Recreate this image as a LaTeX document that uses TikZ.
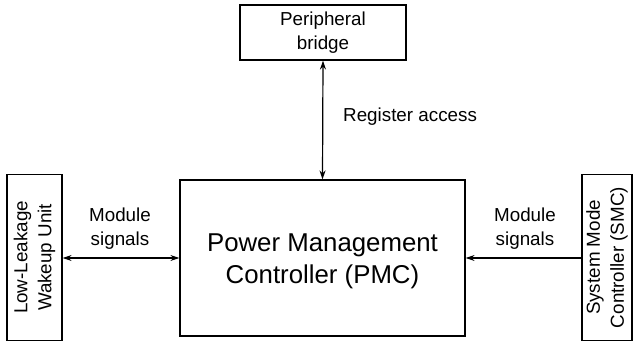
\documentclass[tikz,border=0pt]{standalone}
\usepackage{fontspec}
\setmainfont{Liberation Sans}
\usetikzlibrary{arrows.meta}
\begin{document}
\begin{tikzpicture}[x=1pt,y=-1pt,
  box/.style={draw,line width=1.2pt,inner sep=0pt},
  lbl/.style={font=\fontsize{18.8}{24}\selectfont,align=center,inner sep=0pt},
  conn/.style={line width=1.2pt,-{Stealth[length=9pt,width=6pt]}},
  bconn/.style={line width=1.2pt,{Stealth[length=9pt,width=6pt]}-{Stealth[length=9pt,width=6pt]}}]
\useasboundingbox (0,0) rectangle (637,342);
\node[box,minimum width=166pt,minimum height=55pt] (pb) at (323,32.5) {};
\node[lbl] at (pb.center) {Peripheral\\bridge};
\node[box,minimum width=285pt,minimum height=156pt] (pmc) at (322.5,258) {};
\node[font=\fontsize{25.8}{32}\selectfont,align=center,inner sep=0pt] at (322.5,261) {Power Management\\Controller (PMC)};
\node[box,minimum width=55pt,minimum height=166pt] (lw) at (34.5,257.5) {};
\node[lbl,rotate=90] at (lw.center) {Low-Leakage\\Wakeup Unit};
\node[box,minimum width=50pt,minimum height=166pt] (smc) at (607,257.5) {};
\node[lbl,rotate=90] at (smc.center) {System Mode\\Controller (SMC)};
\draw[bconn] (pb.south) -- (pmc.north);
\draw[bconn] (lw.east |- 0,258) coordinate (a) -- (pmc.west |- a);
\draw[conn] (smc.west |- 0,258) coordinate (b) -- (pmc.east |- b);
\node[lbl,anchor=west] at (343,117) {Register access};
\node[lbl] at (120,229) {Module\\signals};
\node[lbl] at (525,229) {Module\\signals};
\end{tikzpicture}
\end{document}
